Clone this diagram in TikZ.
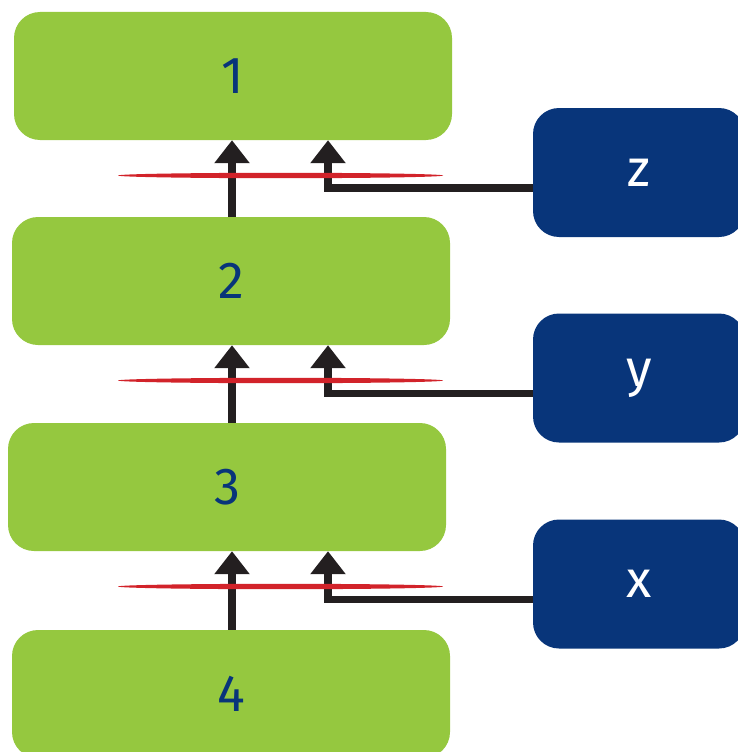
\documentclass[tikz,border=0pt]{standalone}
\usepackage{fontspec}
\setmainfont{Fira Sans}
\usetikzlibrary{arrows.meta}
\definecolor{leaf}{HTML}{95C83F}
\definecolor{navy}{HTML}{08357A}
\definecolor{ink}{HTML}{231F20}
\definecolor{cut}{HTML}{D2232A}
\tikzset{
  layer/.style={fill=leaf, rounded corners=26pt, minimum width=438pt, minimum height=128pt,
    inner sep=0pt, text=navy, font=\fontsize{52}{52}\selectfont},
  input/.style={fill=navy, rounded corners=26pt, minimum width=212pt, minimum height=129pt,
    inner sep=0pt, text=white, font=\fontsize{52}{52}\selectfont},
  arr/.style={draw=ink, line width=7.5pt, -{Triangle[length=23pt,width=34pt]}},
  feed/.style={arr, rounded corners=0pt},
  cutline/.style={fill=cut},
}
\begin{document}
\begin{tikzpicture}[x=1pt,y=-1pt]
  \useasboundingbox (0,0) rectangle (738,752);
  \begin{scope}
    \clip (0,0) rectangle (738,752);
    % stacked layers
    \node[layer] (b1) at (233,76) {1};
    \node[layer] (b2) at (231,281) {2};
    \node[layer] (b3) at (227,487) {3};
    \node[layer] (b4) at (231,694) {4};
    % side inputs
    \node[input] (z) at (639,172.5) {z};
    \node[input] (y) at (639,378) {y};
    \node[input] (x) at (639,584) {x};
    % stem positions
    \coordinate (l) at (232,0);
    \coordinate (r) at (328,0);
    % upward connections between layers
    \draw[arr] (b2.north -| l) -- (b1.south -| l);
    \draw[arr] (b3.north -| l) -- (b2.south -| l);
    \draw[arr] (b4.north -| l) -- (b3.south -| l);
    % side inputs joining from the right
    \draw[feed] ([yshift=-15.5pt]z.west) -| (b1.south -| r);
    \draw[feed] ([yshift=-15.5pt]y.west) -| (b2.south -| r);
    \draw[feed] ([yshift=-15.5pt]x.west) -| (b3.south -| r);
    % thin red cuts across each gap
    \fill[cutline] (280.5,175.5) ellipse [x radius=162.5pt, y radius=2.7pt];
    \fill[cutline] (280.5,380.5) ellipse [x radius=162.5pt, y radius=2.7pt];
    \fill[cutline] (280.5,586.5) ellipse [x radius=162.5pt, y radius=2.7pt];
  \end{scope}
\end{tikzpicture}
\end{document}
